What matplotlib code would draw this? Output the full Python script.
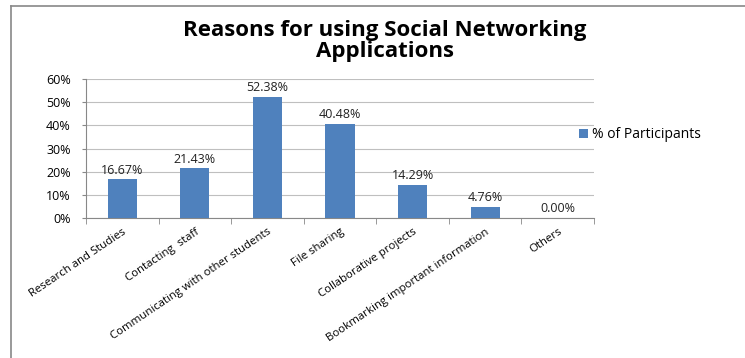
import matplotlib.pyplot as plt
import numpy as np
from matplotlib.lines import Line2D

plt.rcParams['font.family'] = ['Open Sans', 'DejaVu Sans']

categories = ['Research and Studies', 'Contacting  staff', 'Communicating with other students',
              'File sharing', 'Collaborative projects', 'Bookmarking important information', 'Others']
values = [16.67, 21.43, 52.38, 40.48, 14.29, 4.76, 0.00]
yticks = [0, 10, 20, 30, 40, 50, 60]

bar_color = '#4f81bd'
grid_color = '#bfbfbf'

fig = plt.figure(figsize=(7.45, 3.58), dpi=100)
ax = fig.add_axes([86/745, 1-218/358, 508/745, 139/358])

x = np.arange(len(categories))
ax.bar(x, values, width=0.4, color=bar_color, zorder=3, label='% of Participants')
for xi, v in zip(x, values):
    ax.text(xi, v + 1.2, '%.2f%%' % v, ha='center', va='bottom', fontsize=9, color='#222222')

ax.set_xlim(-0.5, len(categories) - 0.5)
ax.set_ylim(0, 60)
ax.set_yticks(yticks)
ax.set_yticklabels(['%d%%' % t for t in yticks], fontsize=9)
ax.yaxis.grid(True, color=grid_color, linewidth=0.8, zorder=0)
ax.tick_params(axis='y', length=3, color='#888888', pad=8)

ax.set_xticks(x)
ax.set_xticklabels(categories, rotation=34, ha='right', rotation_mode='anchor', fontsize=8.2)
ax.tick_params(axis='x', length=0, pad=6)
ax.set_xticks(np.arange(len(categories) + 1) - 0.5, minor=True)
ax.tick_params(axis='x', which='minor', length=4, color='#888888')

for s in ['top', 'right']:
    ax.spines[s].set_visible(False)
for s in ['left', 'bottom']:
    ax.spines[s].set_color('#888888')

fig.text(385/745, 1-36/358, 'Reasons for using Social Networking', ha='center', va='baseline',
         fontsize=16, fontweight='bold')
fig.text(385/745, 1-57/358, 'Applications', ha='center', va='baseline',
         fontsize=16, fontweight='bold')

ax.legend(loc='center left', bbox_to_anchor=(0.945, 0.6), frameon=False, fontsize=10,
          handlelength=0.7, handleheight=0.6, handletextpad=0.3)

# outer border (left and top only visible)
fig.add_artist(Line2D([11/745, 11/745], [0, 1-6/358], color='#888888', linewidth=1.2, transform=fig.transFigure))
fig.add_artist(Line2D([11/745, 1], [1-6/358, 1-6/358], color='#888888', linewidth=1.2, transform=fig.transFigure))

fig.savefig('out.png', dpi=100)
